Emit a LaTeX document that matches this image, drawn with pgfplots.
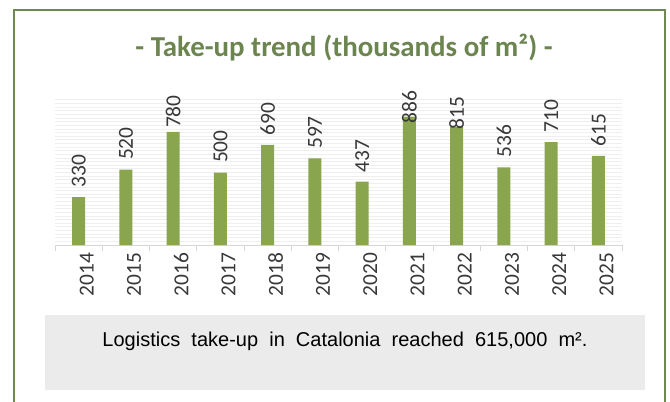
\documentclass[border=0pt]{standalone}
\usepackage{pgfplots}
\pgfplotsset{compat=1.18}
\usepackage{pgfplotstable}
\usepackage{fontspec}
\setmainfont{Carlito}
\newfontfamily\bodyfont{Liberation Sans}
\definecolor{barcol}{HTML}{89A54E}
\definecolor{titlecol}{HTML}{6C8550}
\definecolor{framecol}{HTML}{6E8A50}
\definecolor{boxcol}{HTML}{EBEBEB}
\definecolor{gridcol}{HTML}{EFEFEF}
\definecolor{axcol}{HTML}{D6D6D6}
\pgfplotstableread{
x y ly
0 330 395
1 520 585
2 780 806
3 500 565
4 690 755
5 597 662
6 437 502
7 886 838
8 815 794
9 536 601
10 710 775
11 615 680
}\datatable
\begin{document}
\begin{tikzpicture}[x=1bp,y=1bp]
\path[use as bounding box] (0,0) rectangle (670,401);
\draw[framecol, line width=2.2bp] (14,-10) -- (14,391) -- (665,391) -- (665,-10);
\fill[boxcol] (45,11) rectangle (645,86);
\node[text=black] at (345,60) {\resizebox{485bp}{!}{\bodyfont\fontsize{15}{18}\selectfont Logistics\ \ take-up\ \ in\ \ Catalonia\ \ reached\ \ 615,000\ \ m².}};
\node[text=titlecol, font=\fontsize{29}{34}\selectfont\bfseries] at (344,353) {- Take-up trend (thousands of m²) -};
\begin{axis}[
  at={(55bp,156bp)}, anchor=south west,
  scale only axis, width=567bp, height=145bp,
  xmin=-0.5, xmax=11.5, ymin=0, ymax=1000,
  axis x line*=bottom, axis y line*=left,
  y axis line style={draw=none},
  x axis line style={axcol, line width=0.8bp, -},
  xtick={0,...,11},
  xticklabels={2014,2015,2016,2017,2018,2019,2020,2021,2022,2023,2024,2025},
  major x tick style={draw=none},
  minor xtick={-0.5,0.5,...,11.5},
  minor x tick style={axcol, line width=0.8bp},
  minor tick length=6bp,
  tick align=outside,
  xticklabel style={rotate=90, anchor=east, font=\fontsize{21.5}{25}\selectfont, text=black!78},
  x tick label style={yshift=-8bp},
  ytick={0,25,...,1000},
  yticklabels={},
  major y tick style={draw=none},
  ymajorgrids,
  y grid style={gridcol, line width=1bp},
  /pgf/number format/assume math mode=true,
  clip=false,
]
\addplot[ybar, bar width=13bp, fill=barcol, draw=none] table[x=x,y=y] {\datatable};
\addplot[draw=none, mark=none, point meta=explicit,
  nodes near coords,
  nodes near coords style={rotate=90, anchor=west, font=\fontsize{21.5}{25}\selectfont, text=black!78, inner sep=0pt}]
  table[x=x,y=ly,meta=y] {\datatable};
\end{axis}
\end{tikzpicture}
\end{document}
